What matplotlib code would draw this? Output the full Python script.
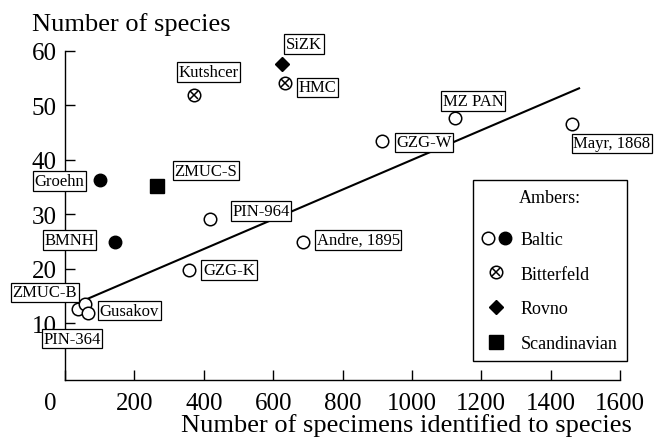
import matplotlib
matplotlib.use('Agg')
import matplotlib.pyplot as plt
from matplotlib.lines import Line2D
from matplotlib.legend_handler import HandlerTuple
from matplotlib.transforms import ScaledTranslation

plt.rcParams['font.family'] = ['Liberation Serif', 'DejaVu Serif']

# Baltic amber collections, open circles
open_names = ['MZ PAN', 'GZG-W', 'Mayr, 1868', 'PIN-964', 'Andre, 1895', 'GZG-K',
              'ZMUC-B', 'PIN-364', 'Gusakov']
open_x = [1125, 915, 1462, 418, 687, 357, 38, 58, 67]
open_y = [47.6, 43.5, 46.5, 29.1, 25.0, 19.8, 12.6, 13.5, 11.8]

# Baltic, filled circles
fill_names = ['Groehn', 'BMNH']
fill_x = [101, 144]
fill_y = [36.3, 25.0]

# Bitterfeld
bitter_names = ['Kutshcer', 'HMC']
bitter_x = [372, 634]
bitter_y = [51.8, 54.0]

# Rovno
rovno_names = ['SiZK']
rovno_x = [627]
rovno_y = [57.5]

# Scandinavian
scand_names = ['ZMUC-S']
scand_x = [265]
scand_y = [35.2]

# regression line
fit_x = [58, 1482]
fit_y = [14.3, 53.1]

xticks = [0, 200, 400, 600, 800, 1000, 1200, 1400, 1600]
yticks = [10, 20, 30, 40, 50, 60]

# where the label boxes sit (data coords)
label_pos = {
    'SiZK': (689, 61.2), 'Kutshcer': (414, 56.1), 'HMC': (728, 53.3),
    'Groehn': (-16, 36.1), 'ZMUC-S': (406, 38.0), 'PIN-964': (565, 30.6),
    'MZ PAN': (1176, 50.8), 'GZG-W': (1035, 43.2), 'Mayr, 1868': (1577, 43.0),
    'Andre, 1895': (845, 25.3), 'BMNH': (12, 25.3), 'GZG-K': (473, 19.8),
    'ZMUC-B': (-58, 15.7), 'Gusakov': (185, 12.3), 'PIN-364': (20, 7.2),
}

fig = plt.figure(figsize=(6.61, 4.39), dpi=100)
ax = fig.add_axes([65 / 661, 1 - 381 / 439, 555 / 661, (381 - 51.7) / 439])

ax.plot(fit_x, fit_y, color='black', lw=1.5, zorder=2)

ms = 9
ax.plot(open_x, open_y, ls='none', marker='o', ms=ms, mfc='white', mec='black', mew=1.1, zorder=3)
ax.plot(fill_x, fill_y, ls='none', marker='o', ms=ms, mfc='black', mec='black', zorder=3)
ax.plot(bitter_x, bitter_y, ls='none', marker='o', ms=ms, mfc='white', mec='black', mew=1.1, zorder=3)
ax.plot(bitter_x, bitter_y, ls='none', marker='x', ms=6.3, mec='black', mew=1.1, zorder=4)
ax.plot(rovno_x, rovno_y, ls='none', marker='D', ms=7.5, mfc='black', mec='black', zorder=3)
ax.plot(scand_x, scand_y, ls='none', marker='s', ms=10.5, mfc='black', mec='black', zorder=3)

for name in open_names + fill_names + bitter_names + rovno_names + scand_names:
    lx, ly = label_pos[name]
    ax.text(lx, ly, name, fontsize=12, ha='center', va='center', clip_on=False, zorder=5,
            bbox=dict(boxstyle='square,pad=0.1', fc='white', ec='black', lw=0.9))

ax.set_xlim(0, 1600)
ax.set_ylim(-0.4, 60)
ax.set_xticks(xticks)
ax.set_yticks(yticks)
ax.tick_params(direction='in', length=7, width=1, labelsize=18)
ax.tick_params(axis='x', pad=8.5)
ax.tick_params(axis='y', pad=6)
for s in ['top', 'right']:
    ax.spines[s].set_visible(False)
for s in ['left', 'bottom']:
    ax.spines[s].set_linewidth(1)

# the "0" label sits left of the origin
lbl0 = ax.get_xticklabels()[0]
lbl0.set_transform(lbl0.get_transform() + ScaledTranslation(-15 / 100, 0, fig.dpi_scale_trans))

fig.text(32 / 661, 1 - 30.5 / 439, 'Number of species', fontsize=19, ha='left', va='baseline')
fig.text(632 / 661, 1 - 432 / 439, 'Number of specimens identified to species', fontsize=19,
         ha='right', va='baseline')

# legend
h_open = Line2D([], [], ls='none', marker='o', ms=ms, mfc='white', mec='black', mew=1.1)
h_fill = Line2D([], [], ls='none', marker='o', ms=ms, mfc='black', mec='black')
h_bc = Line2D([], [], ls='none', marker='o', ms=ms, mfc='white', mec='black', mew=1.1)
h_bx = Line2D([], [], ls='none', marker='x', ms=6.3, mec='black', mew=1.1)
h_rov = Line2D([], [], ls='none', marker='D', ms=7.5, mfc='black', mec='black')
h_sca = Line2D([], [], ls='none', marker='s', ms=10.5, mfc='black', mec='black')
h_baltic = (h_open, h_fill)
h_bitter = (h_bc, h_bx)
leg = ax.legend([h_baltic, h_bitter, h_rov, h_sca],
                ['Baltic', 'Bitterfeld', 'Rovno', 'Scandinavian'],
                handler_map={h_baltic: HandlerTuple(ndivide=2, pad=0.2),
                             h_bitter: HandlerTuple(ndivide=1)},
                title='Ambers:', loc='upper left',
                bbox_to_anchor=(473 / 661, 1 - 181 / 439), bbox_transform=fig.transFigure,
                frameon=True, fancybox=False, edgecolor='black', framealpha=1,
                fontsize=13, title_fontsize=13, labelspacing=0.98, handlelength=1.6,
                handletextpad=0.55, borderpad=0.5, borderaxespad=0)
leg.get_frame().set_linewidth(1.0)
leg._legend_box.sep = 18  # extra room under the title

fig.savefig('out.png', dpi=100)
